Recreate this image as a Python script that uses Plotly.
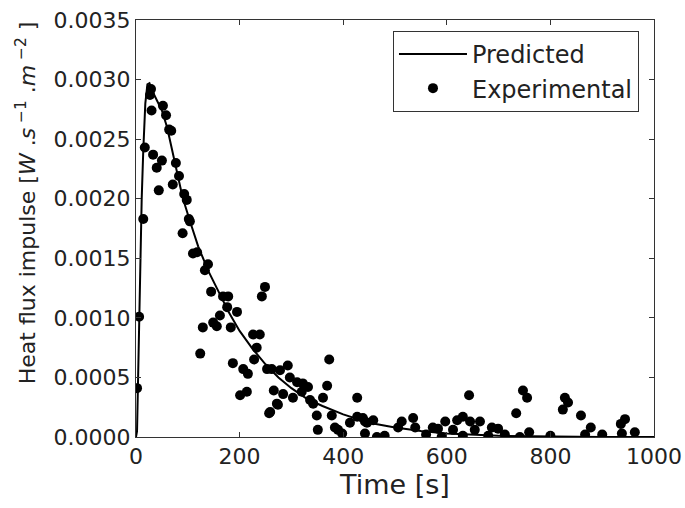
import plotly.graph_objects as go

# Predicted curve
pred_t = [0, 2, 5, 8, 11, 14, 18, 22, 26, 32, 40, 50, 60, 75, 90, 105, 120, 140, 160, 180,
          200, 225, 250, 275, 300, 330, 360, 400, 450, 500, 550, 600, 700, 800, 900, 1000]
pred_y = [0, 0.00005, 0.0007, 0.0014, 0.0020, 0.0024, 0.0028, 0.00296, 0.00297, 0.0029, 0.00283,
          0.00274, 0.0026, 0.0023, 0.00201, 0.0018, 0.0016, 0.00139, 0.00121, 0.00104,
          0.00089, 0.00074, 0.00061, 0.0005, 0.00041, 0.00032, 0.00026, 0.00019, 0.00012,
          0.00008, 0.00005, 0.00003, 0.00001, 0.000004, 0.000001, 0]

# Experimental points
exp_t = [2, 6, 14, 17, 27, 29, 30, 52, 58, 64, 68, 33, 50, 40, 77, 83, 71, 44, 93, 98,
         102, 104, 90, 110, 118, 139, 133, 145, 168, 178, 249, 243, 176, 195, 162, 149, 156, 129, 183, 124,
         187, 207, 216, 201, 214, 259, 272, 351, 349, 226, 239, 233, 228, 373, 293, 253, 262, 278, 297, 311,
         322, 332, 369, 266, 284, 320, 303, 336, 342, 361, 427, 274, 257, 378, 413, 427, 384, 390, 398, 442,
         643, 438, 458, 446, 442, 513, 535, 506, 539, 573, 583, 597, 612, 620, 631, 645, 664, 654, 687, 699,
         712, 590, 631, 747, 755, 734, 828, 834, 824, 859, 878, 944, 936, 963, 759, 741, 867, 938, 465, 480,
         560, 680, 800, 900]
exp_y = [0.00041, 0.00101, 0.00183, 0.00243, 0.00287, 0.00292, 0.00274, 0.00278, 0.0027, 0.00258,
         0.00257, 0.00237, 0.00232, 0.00226, 0.0023, 0.00219, 0.00212, 0.00207, 0.00204, 0.00199,
         0.00183, 0.00181, 0.00171, 0.00154, 0.00155, 0.00145, 0.0014, 0.00122, 0.00118, 0.00118,
         0.00126, 0.00118, 0.00109, 0.00105, 0.00102, 0.00096, 0.00093, 0.00092, 0.00092, 0.0007,
         0.00062, 0.00057, 0.00053, 0.00035, 0.00038, 0.00021, 0.00028, 0.00006, 0.00018, 0.00086,
         0.00086, 0.00075, 0.00065, 0.00065, 0.0006, 0.00057, 0.00057, 0.00056, 0.0005, 0.00046,
         0.00045, 0.00042, 0.00043, 0.00039, 0.00036, 0.00038, 0.00033, 0.00031, 0.00028, 0.00033,
         0.00033, 0.00027, 0.0002, 0.00018, 0.00012, 0.00017, 0.00008, 0.00006, 0.00003, 0.00013,
         0.00035, 0.00016, 0.00014, 0.00012, 0.00003, 0.00013, 0.00016, 0.00008, 0.00008, 0.00008,
         0.00007, 0.00013, 0.00006, 0.00014, 0.00017, 0.00013, 0.00013, 0.00006, 0.00008, 0.00007,
         0.00002, 0.0, 0.00001, 0.00039, 0.00033, 0.0002, 0.00033, 0.00029, 0.00023, 0.00018,
         0.00008, 0.00015, 0.00011, 0.00004, 0.00004, 0.0, 0.00002, 0.00003, 0.0, 0.00001,
         0.00002, 0.00001, 0.00001, 0.00002]

x_ticks = [0, 200, 400, 600, 800, 1000]
y_ticks = [0.0, 0.0005, 0.0010, 0.0015, 0.0020, 0.0025, 0.0030, 0.0035]

FONT = "DejaVu Sans"
TXT = "#222222"

fig = go.Figure()
fig.add_trace(go.Scatter(x=pred_t, y=pred_y, mode="lines", name="Predicted",
                         line=dict(color="black", width=2)))
fig.add_trace(go.Scatter(x=exp_t, y=exp_y, mode="markers", name="Experimental",
                         marker=dict(color="black", size=10, line=dict(width=0))))

axis_common = dict(showline=True, linecolor="#333333", linewidth=1, mirror="allticks",
                   ticks="inside", ticklen=5, tickcolor="#333333", showgrid=False,
                   zeroline=False, automargin=False,
                   tickfont=dict(family=FONT, size=22, color=TXT))

fig.update_layout(
    width=685, height=508,
    margin=dict(l=136, r=31, t=20, b=71),
    paper_bgcolor="white", plot_bgcolor="white",
    font=dict(family=FONT, color=TXT),
    xaxis=dict(range=[0, 1000], tickvals=x_ticks, ticktext=[str(v) for v in x_ticks],
               title=dict(text="Time [s]", font=dict(family=FONT, size=27, color=TXT), standoff=2),
               **axis_common),
    yaxis=dict(range=[0, 0.0035], tickvals=y_ticks, ticktext=[f"{v:.4f}" for v in y_ticks],
               **axis_common),
    showlegend=True,
    legend=dict(x=0.971, y=0.974, xanchor="right", yanchor="top",
                bordercolor="#333333", borderwidth=1, bgcolor="white",
                font=dict(family=FONT, size=24, color=TXT),
                itemwidth=68, tracegroupgap=4),
    annotations=[dict(
        text="Heat flux impulse [<i>W</i> .<i>s</i><sup> −1</sup> .<i>m</i><sup> −2</sup> ]",
        xref="paper", yref="paper", x=-0.212, y=0.561, xanchor="center", yanchor="middle",
        textangle=-90, showarrow=False, font=dict(family=FONT, size=22, color=TXT))],
)

fig.write_html("out.html")
